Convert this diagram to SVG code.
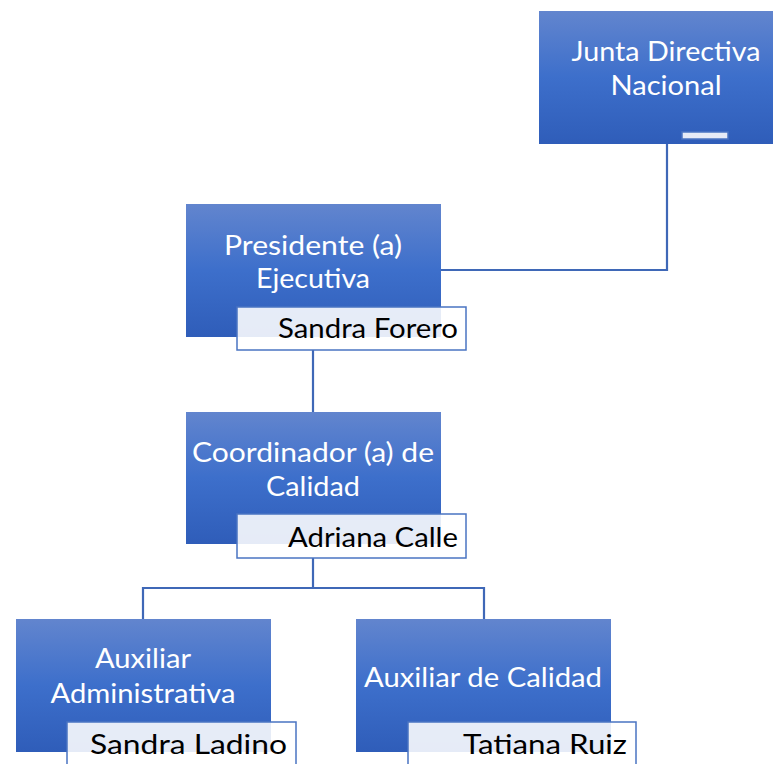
<svg xmlns="http://www.w3.org/2000/svg" width="773" height="764" viewBox="0 0 773 764">
<defs>
<linearGradient id="g" x1="0" y1="0" x2="0" y2="1">
<stop offset="0" stop-color="#6285CE"/>
<stop offset="0.5" stop-color="#3D6FCB"/>
<stop offset="1" stop-color="#2F5DB9"/>
</linearGradient>
<style>
.box{fill:url(#g);}
.lbl{fill:#FFFFFF;fill-opacity:0.88;stroke:#4A74C2;stroke-width:1.5;}
.t{font-family:Lato,"Open Sans","Liberation Sans",sans-serif;font-size:27px;fill:#FFFFFF;text-anchor:middle;}
.n{font-family:Lato,"Open Sans","Liberation Sans",sans-serif;font-size:27px;fill:#000000;text-anchor:end;}
.c{fill:none;stroke:#3F68B7;stroke-width:2.2;}
</style>
</defs>
<rect width="773" height="764" fill="#FFFFFF"/>
<g id="connectors">
<polyline class="c" points="667,144 667,270 441,270"/>
<line class="c" x1="313" y1="350" x2="313" y2="412"/>
<polyline class="c" points="313,558 313,588"/>
<polyline class="c" points="143,619 143,588 484,588 484,619"/>
</g>
<g id="junta">
<rect class="box" x="539" y="11" width="236" height="133"/>
<text class="t" x="666" y="61" textLength="189" lengthAdjust="spacingAndGlyphs">Junta Directiva</text>
<text class="t" x="666" y="95" textLength="111" lengthAdjust="spacingAndGlyphs">Nacional</text>
<rect class="lbl" x="682" y="132" width="46" height="7"/>
</g>
<g id="presidente">
<rect class="box" x="186" y="204" width="255" height="133"/>
<text class="t" x="313" y="255" textLength="178" lengthAdjust="spacingAndGlyphs">Presidente (a)</text>
<text class="t" x="313" y="288" textLength="114" lengthAdjust="spacingAndGlyphs">Ejecutiva</text>
<rect class="lbl" x="237" y="307" width="229" height="43"/>
<text class="n" x="458" y="338" textLength="180" lengthAdjust="spacingAndGlyphs">Sandra Forero</text>
</g>
<g id="coordinador">
<rect class="box" x="186" y="412" width="255" height="132"/>
<text class="t" x="313" y="462" textLength="242" lengthAdjust="spacingAndGlyphs">Coordinador (a) de</text>
<text class="t" x="313" y="496" textLength="94" lengthAdjust="spacingAndGlyphs">Calidad</text>
<rect class="lbl" x="237" y="514" width="229" height="44"/>
<text class="n" x="458" y="547" textLength="170" lengthAdjust="spacingAndGlyphs">Adriana Calle</text>
</g>
<g id="auxiliar-administrativa">
<rect class="box" x="16" y="619" width="255" height="133"/>
<text class="t" x="143" y="668" textLength="96" lengthAdjust="spacingAndGlyphs">Auxiliar</text>
<text class="t" x="143" y="703" textLength="185" lengthAdjust="spacingAndGlyphs">Administrativa</text>
<rect class="lbl" x="67" y="722" width="229" height="46"/>
<text class="n" x="287" y="754" textLength="197" lengthAdjust="spacingAndGlyphs">Sandra Ladino</text>
</g>
<g id="auxiliar-calidad">
<rect class="box" x="356" y="619" width="255" height="133"/>
<text class="t" x="483" y="687" textLength="238" lengthAdjust="spacingAndGlyphs">Auxiliar de Calidad</text>
<rect class="lbl" x="408" y="722" width="228" height="46"/>
<text class="n" x="627" y="754" textLength="164" lengthAdjust="spacingAndGlyphs">Tatiana Ruiz</text>
</g>
</svg>
